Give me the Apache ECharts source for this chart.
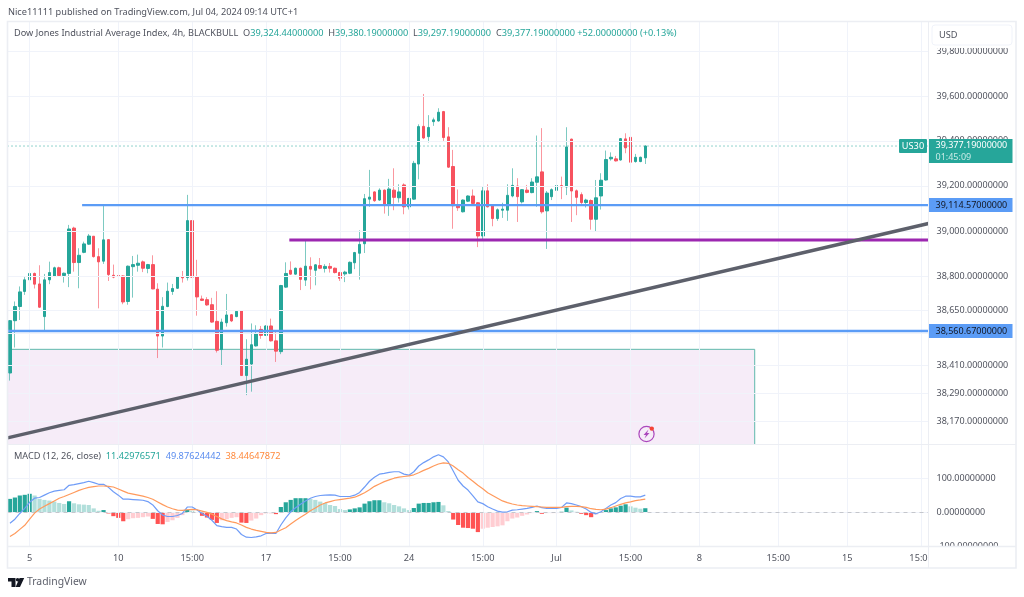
<!DOCTYPE html>
<html><head><meta charset="utf-8">
<style>html,body{margin:0;padding:0;background:#fff}#c{width:1024px;height:597px}</style>
<script src="https://cdn.jsdelivr.net/npm/echarts@6/dist/echarts.min.js"></script>
</head><body><div id="c"></div>
<script>
const opens=[38378,38606,38668,38734,38785,38813,38767,38624,38785,38801,
38838,38804,38813,39013,38861,38906,38942,38977,38887,38867,
38962,38805,38804,38802,38690,38843,38849,38864,38835,38852,
38744,38539,38668,38734,38748,38798,38795,39046,38799,38701,
38698,38676,38603,38480,38597,38632,38624,38649,38367,38417,
38496,38568,38542,38583,38518,38471,38753,38827,38810,38836,
38784,38844,38827,38848,38835,38844,38836,38817,38811,38814,
38860,38902,38944,39141,39173,39137,39181,39115,39181,39147,
39204,39107,39141,39297,39465,39419,39486,39489,39531,39418,
39286,39116,39085,39132,39155,39125,38978,39178,39112,39055,
39092,39092,39155,39199,39129,39181,39170,39216,39262,39089,
39152,39180,39201,39195,39408,39178,39161,39126,39135,39052,
39155,39226,39320,39320,39315,39409,39416,39308,39308,39324.44];
const highs=[38609,38690,38756,38797,38814,38817,38849,38811,38865,38843,
38843,38817,39027,39019,38924,38953,38987,38978,38924,39115,
38964,38852,38827,38805,38848,38890,38896,38870,38855,38893,
38770,38709,38773,38767,38802,38824,39160,39046,38873,38716,
38709,38706,38735,38615,38723,38635,38650,38650,38525,38594,
38586,38583,38586,38615,38561,38763,38862,38866,38839,38839,
38958,38884,38854,38881,38854,38859,38839,38820,38825,38866,
38908,39003,39164,39271,39176,39189,39184,39231,39278,39207,
39211,39147,39311,39474,39610,39515,39504,39546,39534,39461,
39360,39184,39140,39158,39184,39128,39196,39207,39115,39100,
39125,39207,39278,39234,39186,39204,39234,39424,39457,39177,
39189,39204,39241,39461,39410,39184,39171,39143,39140,39226,
39256,39357,39349,39333,39413,39434,39418,39342,39330,39380.19];
const lows=[38345,38489,38609,38719,38782,38747,38662,38558,38766,38797,
38802,38773,38753,38821,38748,38902,38939,38883,38660,38855,
38780,38792,38797,38678,38676,38707,38821,38819,38814,38744,
38443,38489,38665,38719,38745,38773,38782,38794,38628,38692,
38671,38597,38467,38408,38580,38600,38621,38366,38282,38297,
38493,38527,38539,38515,38426,38460,38750,38807,38807,38740,
38758,38743,38761,38832,38817,38817,38813,38780,38775,38810,
38832,38786,38903,39107,39129,39134,39077,39067,39092,39126,
39074,39095,39138,39229,39408,39393,39467,39486,39400,39280,
39010,39089,39082,39128,39119,38929,38958,39104,39021,39045,
39058,39045,39149,39040,39122,39167,39167,39107,39077,38921,
39137,39159,39141,39159,39040,39070,39119,39104,39006,39000,
39095,39223,39312,39308,39312,39345,39241,39303,39305,39297.19];
const closes=[38606,38668,38732,38785,38813,38766,38665,38785,38817,38838,
38804,38814,39009,38861,38893,38943,38978,38887,38864,38961,
38808,38797,38800,38688,38845,38852,38858,38836,38852,38745,
38539,38669,38735,38747,38799,38794,39046,38797,38710,38695,
38675,38600,38477,38600,38631,38605,38647,38367,38438,38501,
38550,38542,38583,38518,38473,38760,38813,38810,38836,38787,
38845,38832,38851,38836,38844,38836,38817,38792,38819,38862,
38905,38941,39143,39150,39134,39181,39115,39186,39149,39173,
39107,39144,39300,39464,39413,39460,39494,39528,39415,39283,
39112,39103,39137,39155,39122,38978,39178,39107,39055,39094,
39097,39158,39202,39152,39183,39171,39217,39240,39085,39168,
39183,39201,39196,39373,39177,39149,39126,39137,39052,39147,
39225,39317,39327,39311,39410,39369,39305,39327,39327,39377.19];
const macdHist=[39,43,49,51,54,49,39,36,34,31,
27,24,32,26,23,22,21,11,4,6,
-4,-12,-17,-27,-21,-18,-17,-15,-13,-20,
-35,-36,-29,-24,-17,-9,7,4,-2,-11,
-16,-23,-32,-24,-21,-17,-15,-31,-32,-25,
-19,-9,-4,-4,-6,15,29,36,41,41,
41,39,36,31,27,21,18,9,6,8,
11,14,25,32,35,35,29,26,21,17,
11,6,12,25,27,27,29,30,20,3,
-22,-38,-46,-47,-49,-59,-49,-46,-44,-42,
-39,-27,-19,-16,-11,-7,-3,3,-5,-3,
-3,-3,1,13,5,1,-5,-9,-15,-7,
-2,6,11,14,19,23,17,13,10,11.43];
const macdLine=[-33,-21,-4,11,29,41,43,50,57,62,
64,66,79,81,84,87,91,87,82,82,
73,60,50,38,38,37,36,35,31,21,
4,-9,-13,-13,-10,-4,15,15,6,-4,
-12,-24,-40,-43,-45,-45,-50,-66,-74,-75,
-73,-70,-63,-62,-63,-38,-17,1,13,23,
33,41,46,49,50,51,50,46,46,46,
50,58,74,91,103,112,114,117,119,119,
112,109,119,136,146,154,163,169,163,148,
121,94,77,65,48,30,25,16,9,3,
0,1,6,7,9,11,14,18,13,11,
11,11,14,27,25,21,16,9,-1,-5,
1,11,21,28,40,47,47,45,45,49.88];
const signalLine=[-72,-63,-51,-39,-21,-3,9,17,25,33,
41,46,52,58,64,69,73,75,77,77,
76,74,68,62,56,53,50,47,43,38,
30,22,15,10,6,5,7,8,7,3,
-1,-6,-13,-20,-25,-29,-32,-38,-45,-50,
-54,-57,-60,-61,-60,-53,-46,-35,-25,-15,
-6,4,12,21,27,31,35,37,39,41,
44,50,57,66,76,83,90,95,100,103,
105,107,110,116,123,129,136,142,145,144,
136,125,115,102,91,79,69,57,49,41,
33,28,24,21,19,18,17,16,15,14,
14,14,14,16,17,17,16,14,10,8,
7,9,13,18,23,27,30,34,36,38.45];
const priceTicks=[39800,39600,39400,39200,39000,38800,38650,38550,38410,38290,38170];
const macdTicks=[100,0,-100];
const timeTickIndex=[4,22,37,52,67,81,96,111,126,140,156,170,185];
const timeTickLabels=['5','10','15:00','17','15:00','24','15:00','Jul','15:00','8','15:00','15','15:00'];
const resistanceUpper=39114.57, resistanceLower=38560.67, purpleLevel=38960, lastPrice=39377.19;
const zoneTop=38481, trendStart=38097, trendEnd=39033;

const font='"Noto Sans",sans-serif';
const slotCount=187, yMin=38070.7, yMax=39938.6, mMin=-100, mMax=200.9;
const cats=new Array(slotCount).fill('');
timeTickIndex.forEach((ix,k)=>{cats[ix]=timeTickLabels[k];});
const fmt=v=>v.toLocaleString('en-US',{minimumFractionDigits:8,maximumFractionDigits:8});
const up='#26a69a',dn='#f7525f';
const gridLine={color:'#f0f3fa',width:1,type:'solid'};
const vertGrid=timeTickIndex.map(i=>({xAxis:i,label:{show:false}}));
const tickLabel={show:true,position:'end',distance:8,color:'#50535e',fontFamily:font,fontSize:9,formatter:p=>fmt(p.value)};
const histColors=macdHist.map((v,i)=>{const p=i?macdHist[i-1]:0;
  return v>=0?(v>=p?'#26a69a':'#b2dfdb'):(v<p?'#ff5252':'#ffcdd2');});

const hLine=(start,val,color,width,tag)=>({type:'line',xAxisIndex:2,yAxisIndex:0,z:6,silent:true,symbol:'none',animation:false,
  data:[[start,val],[1,val]],lineStyle:{color,width},
  endLabel:tag?{show:true,distance:0,formatter:'{a|'+fmt(val)+'}',backgroundColor:color,width:84,height:14,padding:0,align:'left',
    rich:{a:{color:'#131722',fontFamily:font,fontSize:9,lineHeight:14,padding:[0,0,0,7]}}}:{show:false}});

const tStyle={fontFamily:font,fontSize:9.2,fontWeight:'normal',color:'#50535e'};
const option={animation:false,backgroundColor:'#fff',
 title:[
  {left:8,top:8,padding:0,text:'Nice11111 published on TradingView.com, Jul 04, 2024 09:14 UTC+1',textStyle:tStyle},
  {left:14,top:29,padding:0,text:'Dow Jones Industrial Average Index, 4h, BLACKBULL  O{t|39,324.44000000}  H{t|39,380.19000000}  L{t|39,297.19000000}  C{t|39,377.19000000} {t|+52.00000000 (+0.13%)}',
   textStyle:{...tStyle,rich:{t:{color:up,fontFamily:font,fontSize:9.2}}}},
  {left:14,top:452,padding:0,text:'MACD (12, 26, close)  {a|11.42976571}  {b|49.87624442}  {c|38.44647872}',
   textStyle:{...tStyle,rich:{a:{color:up,fontFamily:font,fontSize:9.2},b:{color:'#5b8def',fontFamily:font,fontSize:9.2},c:{color:'#ff8a3d',fontFamily:font,fontSize:9.2}}}}
 ],
 grid:[{left:7.5,top:21,width:921,height:423,show:false},{left:7.5,top:444,width:921,height:102,show:false}],
 xAxis:[
  {type:'category',gridIndex:0,data:cats,show:false},
  {type:'category',gridIndex:1,data:cats,axisLine:{show:false},axisTick:{show:false},splitLine:{show:false},
   axisLabel:{interval:i=>timeTickIndex.includes(i),margin:8,color:'#50535e',fontFamily:font,fontSize:9.2,hideOverlap:false,showMinLabel:true,showMaxLabel:true}},
  {type:'value',gridIndex:0,min:0,max:1,show:false}
 ],
 yAxis:[
  {type:'log',logBase:10,gridIndex:0,min:yMin,max:yMax,position:'right',axisLine:{show:false},axisTick:{show:false},axisLabel:{show:false},splitLine:{show:false}},
  {type:'value',gridIndex:1,min:mMin,max:mMax,position:'right',axisLine:{show:false},axisTick:{show:false},axisLabel:{show:false},splitLine:{show:false}}
 ],
 series:[
  {type:'line',xAxisIndex:0,yAxisIndex:0,z:1,silent:true,symbol:'none',data:[yMin],lineStyle:{opacity:0},
   markLine:{silent:true,symbol:['none','none'],animation:false,lineStyle:gridLine,
    data:[...priceTicks.map(v=>({yAxis:v,label:tickLabel})),...vertGrid]}},
  {type:'line',xAxisIndex:1,yAxisIndex:1,z:1,silent:true,symbol:'none',data:[0],lineStyle:{opacity:0},
   markLine:{silent:true,symbol:['none','none'],animation:false,lineStyle:gridLine,
    data:[...macdTicks.map(v=>({yAxis:v,label:tickLabel})),...vertGrid]}},
  {type:'line',xAxisIndex:2,yAxisIndex:0,z:2,silent:true,symbol:'none',
   data:[[0,zoneTop],[0.8113,zoneTop],[0.8113,yMin]],lineStyle:{color:'#5fb8ac',width:1},
   markArea:{silent:true,itemStyle:{color:'rgba(156,39,176,0.085)'},data:[[{coord:[0,zoneTop]},{coord:[0.8113,yMin]}]]}},
  {type:'candlestick',xAxisIndex:0,yAxisIndex:0,z:3,barWidth:1,silent:true,
   data:opens.map((o,i)=>[o,closes[i],lows[i],highs[i]]),
   itemStyle:{color:'rgba(38,166,154,.6)',color0:'rgba(247,82,95,.6)',borderColor:'rgba(38,166,154,.6)',borderColor0:'rgba(247,82,95,.6)',borderWidth:1}},
  {type:'candlestick',xAxisIndex:0,yAxisIndex:0,z:4,barWidth:3,silent:true,
   data:opens.map((o,i)=>[o,closes[i],Math.min(o,closes[i]),Math.max(o,closes[i])]),
   itemStyle:{color:up,color0:dn,borderColor:up,borderColor0:dn,borderWidth:1}},
  {type:'line',xAxisIndex:2,yAxisIndex:0,z:7,silent:true,symbol:'none',data:[[0,trendStart],[1,trendEnd]],lineStyle:{color:'#5d606b',width:3.5}},
  hLine(0.081,resistanceUpper,'#5b9cf6',2.4,true),
  hLine(0,resistanceLower,'#5b9cf6',2.4,true),
  hLine(0.306,purpleLevel,'#9c27b0',3,false),
  {type:'line',xAxisIndex:2,yAxisIndex:0,z:8,silent:true,symbol:'none',data:[[0,lastPrice],[1,lastPrice]],lineStyle:{color:'#26a69a',width:1,type:[1,3]},
   endLabel:{show:true,distance:0,offset:[0,5],formatter:()=>'{a|39,377.19000000}\n{b|01:45:09}',backgroundColor:up,width:84,height:24,padding:0,align:'left',
    rich:{a:{color:'#fff',fontFamily:font,fontSize:9,lineHeight:12,padding:[0,0,0,7]},b:{color:'#c8ebe6',fontFamily:font,fontSize:9,lineHeight:12,padding:[0,0,0,7]}}}},
  {type:'bar',xAxisIndex:1,yAxisIndex:1,z:3,barWidth:4.2,silent:true,
   data:macdHist.map((v,i)=>({value:v,itemStyle:{color:histColors[i]}}))},
  {type:'line',xAxisIndex:1,yAxisIndex:1,z:4,silent:true,symbol:'none',data:[],
   markLine:{silent:true,symbol:['none','none'],animation:false,lineStyle:{color:'#c4c6cc',width:1,type:[4,4]},data:[{yAxis:0,label:{show:false}}]}},
  {type:'line',xAxisIndex:1,yAxisIndex:1,z:5,silent:true,symbol:'none',data:macdLine,lineStyle:{color:'#6f9cf7',width:1.2}},
  {type:'line',xAxisIndex:1,yAxisIndex:1,z:6,silent:true,symbol:'none',data:signalLine,lineStyle:{color:'#ff9a5c',width:1.2}}
 ],
 graphic:[
  {type:'rect',z:90,shape:{x:929,y:547,width:86,height:20},style:{fill:'#fff'}},
  {type:'rect',z:90,shape:{x:929,y:22,width:86,height:26},style:{fill:'#fff'}},
  {type:'rect',z:91,shape:{x:932,y:25,width:80,height:20,r:3},style:{fill:'#fff',stroke:'#f0f3fa',lineWidth:1}},
  {type:'text',z:92,style:{x:939,y:30.5,text:'USD',fill:'#50535e',font:'9.2px '+font}},
  {type:'rect',z:95,shape:{x:7.5,y:21.5,width:1008.5,height:546.5},style:{fill:'none',stroke:'#eceef3',lineWidth:1.6}},
  {type:'line',z:95,shape:{x1:928.5,y1:21,x2:928.5,y2:568},style:{stroke:'#eceef3',lineWidth:1}},
  {type:'line',z:95,shape:{x1:8,y1:444.5,x2:1016,y2:444.5},style:{stroke:'#eceef3',lineWidth:1.2}},
  {type:'line',z:95,shape:{x1:8,y1:546.5,x2:1016,y2:546.5},style:{stroke:'#eceef3',lineWidth:1.6}},
  {type:'rect',z:96,shape:{x:899,y:139,width:28,height:14,r:1},style:{fill:up}},
  {type:'text',z:97,style:{x:913,y:146,text:'US30',fill:'#fff',font:'9.2px '+font,align:'center',verticalAlign:'middle'}},
  {type:'circle',z:96,shape:{cx:646.5,cy:434,r:7.6},style:{fill:'none',stroke:'#ab47bc',lineWidth:1.2}},
  {type:'polygon',z:97,shape:{points:[[648.5,429.5],[643.5,435],[646,435],[644.5,438.5],[649.5,433],[647,433]]},style:{fill:'#ab47bc'}},
  {type:'circle',z:98,shape:{cx:651.8,cy:428.6,r:2.2},style:{fill:'#f44336'}},
  {type:'polygon',z:96,shape:{points:[[8,578],[15.5,578],[15.5,587],[11.5,587],[11.5,581.5],[8,581.5]]},style:{fill:'#131722'}},
  {type:'circle',z:96,shape:{cx:17.6,cy:579.8,r:1.8},style:{fill:'#131722'}},
  {type:'polygon',z:96,shape:{points:[[19.6,578],[24.2,578],[20,587],[15.6,587]]},style:{fill:'#131722'}},
  {type:'text',z:96,style:{x:27,y:582.5,text:'TradingView',fill:'#5d606b',font:'10.4px '+font,verticalAlign:'middle'}}
 ]
};
echarts.init(document.getElementById('c'),null,{renderer:'canvas'}).setOption(option);
</script></body></html>
